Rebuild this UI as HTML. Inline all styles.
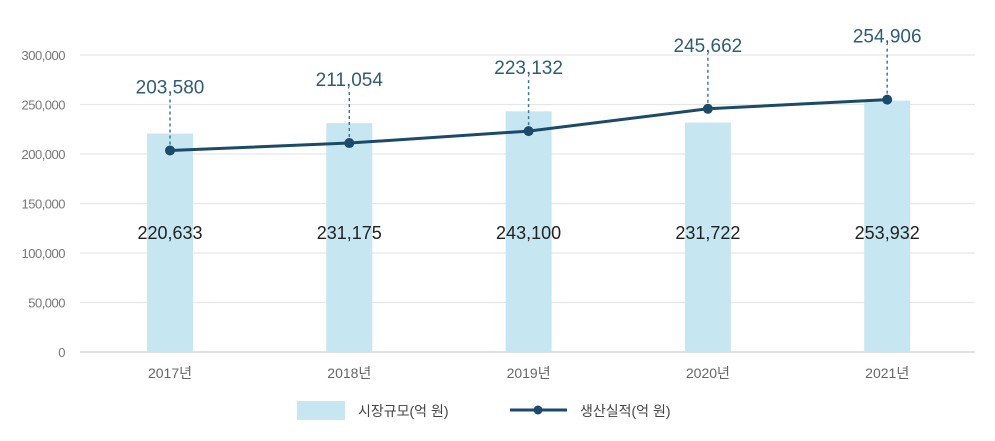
<!DOCTYPE html>
<html><head><meta charset="utf-8"><style>
body{margin:0;background:#fff;width:995px;height:436px;overflow:hidden}
text{font-family:"Liberation Sans","Noto Sans CJK KR",sans-serif}
</style></head><body>
<svg id="chart" width="995" height="436" xmlns="http://www.w3.org/2000/svg"></svg>
<script>
const categories=["2017년","2018년","2019년","2020년","2021년"];
const marketSize=[220633,231175,243100,231722,253932];
const production=[203580,211054,223132,245662,254906];
const yTicks=[0,50000,100000,150000,200000,250000,300000];
const svg=document.getElementById('chart');
const NS='http://www.w3.org/2000/svg';
const y0=352,yScale=297/300000;
const y=v=>y0-v*yScale;
const x=i=>170+i*179.3;
const fmt=v=>v.toLocaleString('en-US');
function mk(t,a,txt){const e=document.createElementNS(NS,t);for(const k in a)e.setAttribute(k,a[k]);if(txt!==undefined)e.textContent=txt;svg.appendChild(e);return e;}
yTicks.forEach(v=>{
 const g=mk('line',{x1:80,x2:975,y1:y(v),y2:y(v),stroke:v===0?'#cfcfcf':'#e6e6e6','stroke-width':1.2});
 
 
 const t=mk('text',{x:65,y:y(v)+5,'text-anchor':'end','font-size':13,fill:'#777','letter-spacing':'-0.5'},fmt(v));
 
 
});
categories.forEach((c,i)=>{
 const b=mk('rect',{x:x(i)-23,y:y(marketSize[i]),width:46,height:y0-y(marketSize[i]),fill:'#c6e7f1'});
 
 
 const bv=mk('text',{x:x(i),y:239,'text-anchor':'middle','font-size':18,fill:'#222'},fmt(marketSize[i]));
 
 
 const xl=mk('text',{x:x(i),y:378,'text-anchor':'middle','font-size':14,fill:'#666'},c);
 
 
});
let d='';
production.forEach((v,i)=>{d+=(i?'L':'M')+x(i)+','+y(v);});
const ln=mk('path',{d:d,fill:'none',stroke:'#1c4a69','stroke-width':3});


production.forEach((v,i)=>{
 const py=y(v),ly=py-57;
 const dl=mk('line',{x1:x(i),x2:x(i),y1:ly+6,y2:py,stroke:'#4a7591','stroke-width':1.5,'stroke-dasharray':'3,3'});
 
 
 const p=mk('circle',{cx:x(i),cy:py,r:5,fill:'#1c4a69'});
 
 
 const t=mk('text',{x:x(i),y:ly,'text-anchor':'middle','font-size':19,fill:'#2f5c7a'},fmt(v));
 
 
});
</script>
<svg style="position:absolute;left:0;top:0" width="995" height="436">
<rect x="297" y="401" width="48" height="19" fill="#c6e7f1"/>
<text x="358" y="416" font-size="14" fill="#444" font-family="Liberation Sans,Noto Sans CJK KR,sans-serif">시장규모(억 원)</text>
<line x1="510" x2="567" y1="410" y2="410" stroke="#1c4a69" stroke-width="3"/>
<circle cx="538" cy="410" r="4.5" fill="#1c4a69"/>
<text x="580" y="416" font-size="14" fill="#444" font-family="Liberation Sans,Noto Sans CJK KR,sans-serif">생산실적(억 원)</text>
</svg>
</body></html>
